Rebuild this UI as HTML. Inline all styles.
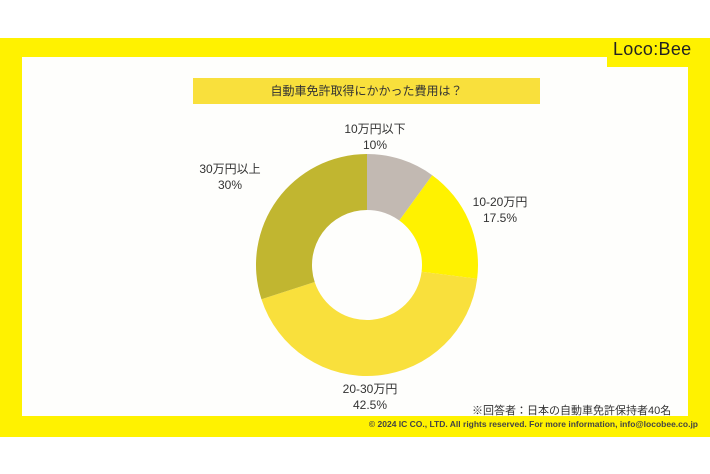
<!DOCTYPE html>
<html><head><meta charset="utf-8"><style>
body{margin:0;width:710px;height:474px;background:#fff;position:relative;overflow:hidden;font-family:"Liberation Sans","Noto Sans CJK JP",sans-serif;color:#333}
.a{position:absolute}
</style></head><body>
<div class="a" style="left:0;top:38px;width:710px;height:399px;background:#fff200"></div>
<div class="a" style="left:22px;top:57px;width:666px;height:359px;background:#fefefc"></div>
<div class="a" style="left:607px;top:57px;width:81px;height:10px;background:#fff200"></div>
<div class="a" style="left:613px;top:39px;font-size:18px;color:#222;letter-spacing:0.3px">Loco:Bee</div>
<div class="a" style="left:193px;top:78px;width:347px;height:26px;background:#f9e03c;font-size:12px;line-height:26px;text-align:center;color:#333">自動車免許取得にかかった費用は？</div>
<svg class="a" style="left:0;top:0" width="710" height="474">
<g transform="translate(367,265)">
<path d="M0,-111 A111,111 0 0 1 65.24,-89.8 L32.33,-44.5 A55,55 0 0 0 0,-55Z" fill="#c2b9b2"/>
<path d="M65.24,-89.8 A111,111 0 0 1 110.15,13.73 L54.58,6.8 A55,55 0 0 0 32.33,-44.5Z" fill="#fff200"/>
<path d="M110.15,13.73 A111,111 0 0 1 -105.57,34.3 L-52.31,17 A55,55 0 0 0 54.58,6.8Z" fill="#f9e03c"/>
<path d="M-105.57,34.3 A111,111 0 0 1 0,-111 L0,-55 A55,55 0 0 0 -52.31,17Z" fill="#c1b630"/>
</g>
</svg>
<div class="a" style="left:340px;top:121px;width:70px;text-align:center;font-size:12px;line-height:16px">10万円以下<br>10%</div>
<div class="a" style="left:465px;top:194px;width:70px;text-align:center;font-size:12px;line-height:16px">10-20万円<br>17.5%</div>
<div class="a" style="left:195px;top:161px;width:70px;text-align:center;font-size:12px;line-height:16px">30万円以上<br>30%</div>
<div class="a" style="left:335px;top:381px;width:70px;text-align:center;font-size:12px;line-height:16px">20-30万円<br>42.5%</div>
<div class="a" style="left:472px;top:402px;font-size:11px;color:#333">※回答者：日本の自動車免許保持者40名</div>
<div class="a" style="right:12px;top:419px;font-size:8.5px;color:#444;font-weight:bold">© 2024 IC CO., LTD. All rights reserved. For more information, info@locobee.co.jp</div>
</body></html>
